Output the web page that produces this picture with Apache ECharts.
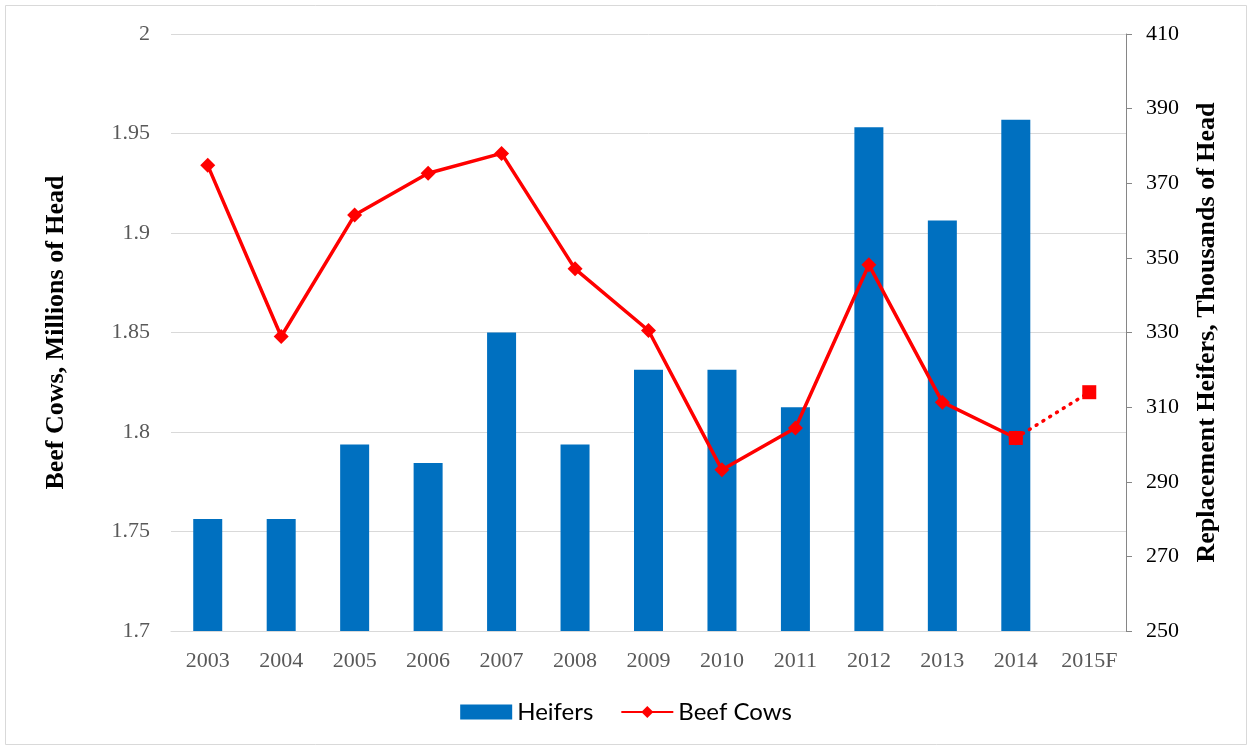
<!DOCTYPE html>
<html><head><meta charset="utf-8">
<script src="https://cdn.jsdelivr.net/npm/echarts@6/dist/echarts.min.js"></script>
<style>html,body{margin:0;padding:0;background:#fff}#c{width:1252px;height:751px}</style>
</head><body><div id="c"></div>
<script>
const categories = ['2003','2004','2005','2006','2007','2008','2009','2010','2011','2012','2013','2014','2015F'];
const heifers = [280, 280, 300, 295, 330, 300, 320, 320, 310, 385, 360, 387, null];
const beefCows = [1.934, 1.848, 1.909, 1.930, 1.940, 1.882, 1.851, 1.781, 1.802, 1.884, 1.815, 1.797, null];
const forecast = [null, null, null, null, null, null, null, null, null, null, null, 1.797, 1.820];
const leftTicks = [1.7, 2.0, 0.05];
const rightTicks = [250, 410, 20];

const chart = echarts.init(document.getElementById('c'));
const serif = 'Liberation Serif';
chart.setOption({
  animation: false,
  backgroundColor: '#fff',
  graphic: [{type:'rect', shape:{x:5.5,y:5.5,width:1241,height:739}, style:{fill:'none', stroke:'#d9d9d9', lineWidth:1}, silent:true}],
  grid: {left:171, right:126, top:34, bottom:120},
  legend: {
    bottom: 22, left: 'center', itemGap: 27, itemWidth: 52, itemHeight: 15,
    textStyle: {fontFamily: 'Lato', fontSize: 24, color: '#000'},
    data: [{name:'Heifers', icon:'rect'}, {name:'Beef Cows'}]
  },
  xAxis: {
    type: 'category', data: categories,
    axisLine: {show:true, lineStyle:{color:'#d9d9d9', width:1}},
    axisTick: {show:false},
    axisLabel: {fontFamily: serif, fontSize: 22, color:'#595959', margin: 19}
  },
  yAxis: [{
    type: 'value', min: leftTicks[0], max: leftTicks[1], interval: leftTicks[2], position:'left',
    name: 'Beef Cows, Millions of Head', nameLocation:'middle', nameGap: 102, nameRotate: 90,
    nameTextStyle: {fontFamily: serif, fontSize: 26, fontWeight:'bold', color:'#000'},
    axisLine: {show:false}, axisTick:{show:false},
    axisLabel: {fontFamily: serif, fontSize: 22, color:'#595959', margin: 21,
      formatter: v => String(Math.round(v*100)/100)},
    splitLine: {lineStyle:{color:'#d9d9d9', width:1}}
  },{
    type: 'value', min: rightTicks[0], max: rightTicks[1], interval: rightTicks[2], position:'right',
    name: 'Replacement Heifers, Thousands of Head', nameLocation:'middle', nameGap: 68, nameRotate: 90,
    nameTextStyle: {fontFamily: serif, fontSize: 26, fontWeight:'bold', color:'#000'},
    axisLine: {show:true, lineStyle:{color:'#868686', width:1}},
    axisTick: {show:true, length:6, lineStyle:{color:'#868686'}},
    axisLabel: {fontFamily: serif, fontSize: 22, color:'#000', margin: 20},
    splitLine: {show:false}
  }],
  series: [{
    name: 'Heifers', type: 'bar', yAxisIndex: 1, data: heifers, barWidth: 29,
    itemStyle: {color: '#0070c0'}
  },{
    name: 'Beef Cows', type: 'line', yAxisIndex: 0, data: beefCows,
    lineStyle: {color:'#ff0000', width: 3.5}, itemStyle:{color:'#ff0000'},
    symbol: 'diamond', symbolSize: 15, z: 5
  },{
    name: 'Forecast', type: 'line', yAxisIndex: 0, data: forecast,
    lineStyle: {color:'#ff0000', width: 3.5, type:[1,7], cap:'round'}, itemStyle:{color:'#ff0000'},
    symbol: 'rect', symbolSize: 14, z: 6
  }]
});
</script></body></html>
